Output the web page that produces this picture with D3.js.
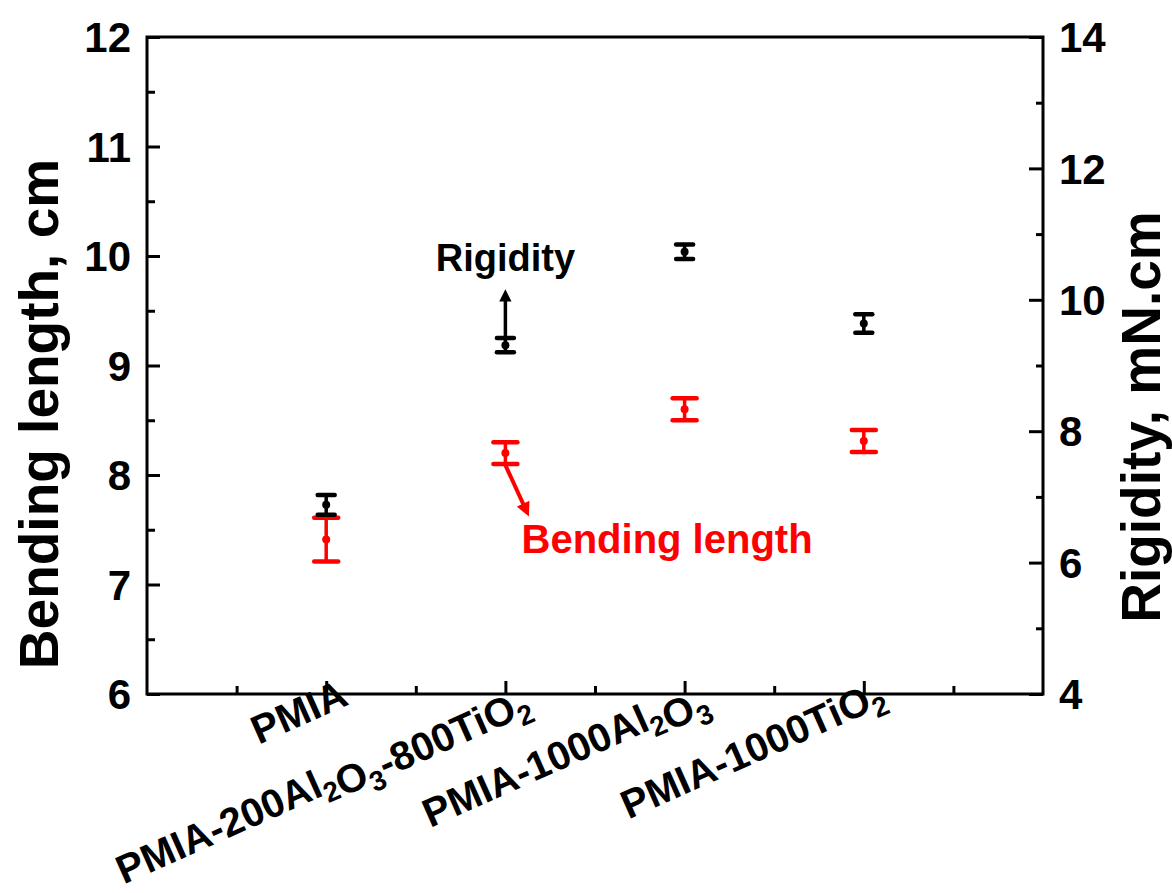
<!DOCTYPE html>
<html><head><meta charset="utf-8">
<script src="https://cdn.jsdelivr.net/npm/d3@7"></script>
<style>
html,body{margin:0;padding:0;background:#fff;}
text{font-family:"Liberation Sans",Arial,sans-serif;font-weight:bold;}
</style></head>
<body>
<svg id="chart" width="1172" height="893"></svg>
<script>
// ---- data ----
const categories = ["PMIA", "PMIA-200Al2O3-800TiO2", "PMIA-1000Al2O3", "PMIA-1000TiO2"];
const categoryPos = [1, 2, 3, 4];
const bendingLength = [7.41, 8.2, 8.6, 8.31];
const bendingErr = [0.2, 0.1, 0.1, 0.1];
const rigidity = [6.88, 9.31, 10.73, 9.64];
const rigidityErr = [0.15, 0.11, 0.11, 0.14];
const leftTicks = [6, 7, 8, 9, 10, 11, 12];
const rightTicks = [4, 6, 8, 10, 12, 14];

const svg = d3.select("#chart");
const L = 147, R = 1043, T = 37, B = 694;
const x = d3.scaleLinear().domain([0, 5]).range([L, R]);
const yL = d3.scaleLinear().domain([6, 12]).range([B, T]);
const yR = d3.scaleLinear().domain([4, 14]).range([B, T]);

// frame
svg.append("rect").attr("x", L).attr("y", T).attr("width", R - L).attr("height", B - T)
  .attr("fill", "none").attr("stroke", "#000").attr("stroke-width", 3);

// left axis
const gL = svg.append("g").attr("transform", `translate(${L},0)`)
  .call(d3.axisRight(yL).tickValues(d3.range(6, 12.01, 0.5)).tickSize(12).tickFormat(""));
gL.select(".domain").remove();
gL.selectAll(".tick line").attr("stroke-width", 3)
  .attr("x2", d => Number.isInteger(d) ? 13 : 8);
svg.append("g").selectAll("text").data(leftTicks).join("text")
  .attr("x", L - 16).attr("y", d => yL(d)).attr("dy", "0.36em")
  .attr("text-anchor", "end").attr("font-size", 42).text(d => d);

// right axis
const gR = svg.append("g").attr("transform", `translate(${R},0)`)
  .call(d3.axisLeft(yR).tickValues(d3.range(4, 14.01, 1)).tickSize(12).tickFormat(""));
gR.select(".domain").remove();
gR.selectAll(".tick line").attr("stroke-width", 3)
  .attr("x2", d => d % 2 === 0 ? -14 : -7);
svg.append("g").selectAll("text").data(rightTicks).join("text")
  .attr("x", R + 16).attr("y", d => yR(d)).attr("dy", "0.36em")
  .attr("text-anchor", "start").attr("font-size", 42).text(d => d);

// bottom axis
const gB = svg.append("g").attr("transform", `translate(0,${B})`)
  .call(d3.axisTop(x).tickValues(d3.range(0.5, 4.51, 0.5)).tickSize(12).tickFormat(""));
gB.select(".domain").remove();
gB.selectAll(".tick line").attr("stroke-width", 3)
  .attr("y2", d => Number.isInteger(d) ? -13 : -8);

// category labels with subscripts
const labG = svg.append("g");
categories.forEach((c, i) => {
  const t = labG.append("text").attr("font-size", 40).attr("text-anchor", "end")
    .attr("transform", `translate(${x(categoryPos[i]) + 24},${B + 10}) rotate(-24)`);
  const parts = c.match(/[A-Za-z]\d(?!\d)|[^]/g);
  let buf = "";
  const flush = () => { if (buf) { t.append("tspan").text(buf); buf = ""; } };
  let sub = false;
  for (const p of parts) {
    if (p.length === 2) {
      buf += p[0]; flush();
      t.append("tspan").attr("font-size", 28).attr("dy", 9).text(p[1]);
      sub = true;
    } else {
      if (sub) { flush(); t.append("tspan").attr("dy", -9).text(p); sub = false; }
      else buf += p;
    }
  }
  flush();
});

// axis titles
svg.append("text").attr("transform", `translate(58,414) rotate(-90)`)
  .attr("text-anchor", "middle").attr("font-size", 55).text("Bending length, cm");
svg.append("text").attr("transform", `translate(1160,417) rotate(-90)`)
  .attr("text-anchor", "middle").attr("font-size", 55).text("Rigidity, mN.cm");

// error bars
function errBars(vals, errs, scale, color, capHalf) {
  const g = svg.append("g");
  vals.forEach((v, i) => {
    const cx = x(categoryPos[i]);
    g.append("line").attr("x1", cx).attr("x2", cx)
      .attr("y1", scale(v - errs[i])).attr("y2", scale(v + errs[i]))
      .attr("stroke", color).attr("stroke-width", 3.5);
    [v - errs[i], v + errs[i]].forEach(e => {
      g.append("line").attr("x1", cx - capHalf).attr("x2", cx + capHalf)
        .attr("y1", scale(e)).attr("y2", scale(e))
        .attr("stroke", color).attr("stroke-width", 4.5).attr("stroke-linecap", "round");
    });
    g.append("circle").attr("cx", cx).attr("cy", scale(v)).attr("r", 4).attr("fill", color);
  });
}
errBars(bendingLength, bendingErr, yL, "#ff0000", 12);
errBars(rigidity, rigidityErr, yR, "#000000", 8.5);

// annotations
const defs = svg.append("defs");
[["ahB", "#000"], ["ahR", "#ff0000"]].forEach(([id, col]) => {
  defs.append("marker").attr("id", id).attr("viewBox", "0 0 10 10").attr("refX", 5).attr("refY", 5)
    .attr("markerWidth", 4).attr("markerHeight", 3.5).attr("orient", "auto")
    .append("path").attr("d", "M0,0 L10,5 L0,10 Z").attr("fill", col);
});
svg.append("line").attr("x1", x(2)).attr("x2", x(2)).attr("y1", yL(9.23)).attr("y2", yL(9.64))
  .attr("stroke", "#000").attr("stroke-width", 3.5).attr("marker-end", "url(#ahB)");
svg.append("text").attr("x", x(2)).attr("y", yL(9.86)).attr("text-anchor", "middle")
  .attr("font-size", 38).text("Rigidity");
svg.append("line").attr("x1", x(2)).attr("x2", x(2.115)).attr("y1", yL(8.09)).attr("y2", yL(7.68))
  .attr("stroke", "#ff0000").attr("stroke-width", 4).attr("marker-end", "url(#ahR)");
svg.append("text").attr("x", x(2.09)).attr("y", yL(7.29)).attr("text-anchor", "start")
  .attr("font-size", 40).attr("fill", "#ff0000").text("Bending length");
</script>
</body></html>
